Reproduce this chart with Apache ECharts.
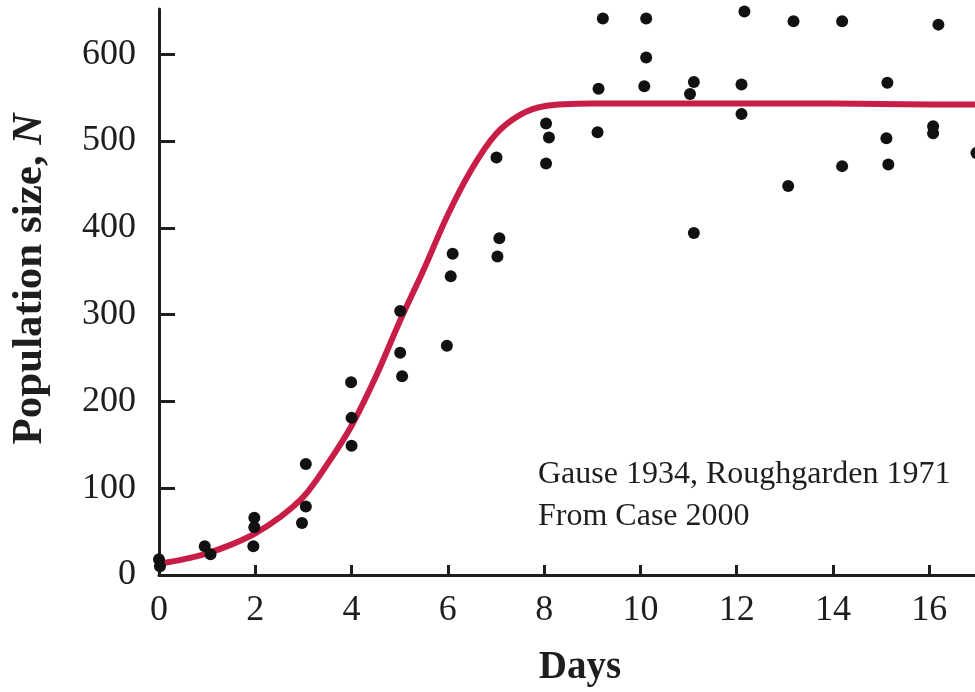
<!DOCTYPE html>
<html>
<head>
<meta charset="utf-8">
<script src="https://cdn.jsdelivr.net/npm/echarts@6/dist/echarts.min.js"></script>
<style>
html,body{margin:0;padding:0;background:#fff;}
#chart{width:975px;height:692px;}
</style>
</head>
<body>
<div id="chart"></div>
<script>
// Observed counts (Paramecium, Gause 1934)
const dotDays = [0, 0.02, 0.95, 1.07, 1.98, 1.98, 1.96, 3.05, 3.05, 2.97, 3.99, 4.0, 4.0,
  5.01, 5.01, 5.05, 6.1, 6.06, 5.98, 7.07, 7.03, 7.01, 8.04, 8.1, 8.04,
  9.22, 9.13, 9.11, 10.12, 10.12, 10.08, 11.11, 11.03, 11.11, 12.16, 12.1, 12.1,
  13.18, 13.07, 14.19, 14.19, 15.13, 15.11, 15.15, 16.19, 16.08, 16.08, 16.98];
const dotN = [18, 10, 33, 24, 66, 55, 33, 128, 79, 60, 222, 181, 149,
  304, 256, 229, 370, 344, 264, 388, 367, 481, 520, 504, 474,
  641, 560, 510, 641, 596, 563, 568, 554, 394, 649, 565, 531,
  638, 448, 638, 471, 567, 503, 473, 634, 517, 509, 486];

// Fitted logistic curve
const curveDays = [0, 0.5, 1, 1.5, 2, 2.5, 3, 3.5, 4, 4.5, 5, 5.5, 6, 6.5, 7, 7.5, 8, 9, 10, 12, 14, 16, 18];
const curveN = [13, 18, 25, 35, 48, 66, 90, 128, 172, 228, 292, 352, 415, 468, 508, 530, 540, 543, 543, 543, 543, 542, 542];

const xTicks = [0, 2, 4, 6, 8, 10, 12, 14, 16];
const yTicks = [0, 100, 200, 300, 400, 500, 600];

const annotationLines = ['Gause 1934, Roughgarden 1971', 'From Case 2000'];
const xName = 'Days';
const yName = 'Population size, {i|N}';

const FONT = 'Liberation Serif';
const INK = '#1e1e1e';

const chart = echarts.init(document.getElementById('chart'), null, {renderer: 'canvas'});

const dots = dotDays.map((d, i) => [d, dotN[i]]);
const curve = curveDays.map((d, i) => [d, curveN[i]]);

chart.setOption({
  backgroundColor: '#ffffff',
  animation: false,
  grid: {left: 154, right: 0, top: 9, bottom: 115, containLabel: false},
  xAxis: {
    type: 'value', min: 0, max: 16.95, interval: 2,
    name: xName, nameLocation: 'middle', nameGap: 73,
    nameTextStyle: {fontFamily: FONT, fontSize: 39, fontWeight: 'bold', color: INK, padding: [0, 0, 0, 26]},
    axisLine: {show: true, onZero: false, lineStyle: {color: INK, width: 3}},
    axisTick: {show: true, inside: true, length: 10, lineStyle: {color: INK, width: 3}, customValues: xTicks},
    axisLabel: {show: true, margin: 18, fontFamily: FONT, fontSize: 36, color: INK, customValues: xTicks},
    splitLine: {show: false}
  },
  yAxis: {
    type: 'value', min: 0, max: 652, interval: 50,
    name: yName, nameLocation: 'middle', nameGap: 108, nameRotate: 90,
    nameTextStyle: {fontFamily: FONT, fontSize: 43, fontWeight: 'bold', color: INK, padding: [0, 0, 0, 26],
      rich: {i: {fontFamily: FONT, fontSize: 43, fontWeight: 'bold', fontStyle: 'italic', color: INK}}},
    axisLine: {show: true, onZero: false, lineStyle: {color: INK, width: 3}},
    axisTick: {show: true, inside: true, length: 16, lineStyle: {color: INK, width: 3}, customValues: yTicks},
    axisLabel: {show: true, margin: 23, fontFamily: FONT, fontSize: 36, color: INK, customValues: yTicks},
    splitLine: {show: false}
  },
  graphic: [{
    type: 'text', left: 538, top: 454,
    style: {text: annotationLines.join('\n'), font: '32px "Liberation Serif"', fill: INK, lineHeight: 42}
  }],
  series: [
    {
      type: 'line', data: curve, smooth: 0.35, showSymbol: false, symbol: 'none',
      lineStyle: {color: '#c81d47', width: 6}, z: 2, clip: false
    },
    {
      type: 'scatter', data: dots, symbol: 'circle', symbolSize: 12,
      itemStyle: {color: '#111111', opacity: 1}, z: 3, clip: false
    }
  ]
});
</script>
</body>
</html>
